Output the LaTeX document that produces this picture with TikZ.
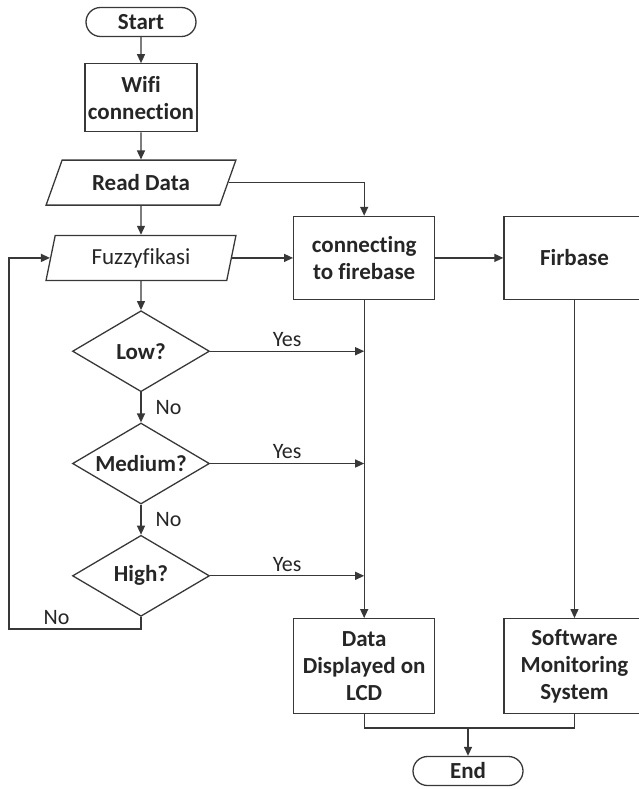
\documentclass[tikz,border=0pt]{standalone}
\usepackage{fontspec}
\setmainfont{Carlito}[Ligatures={NoCommon}]
\usepackage{tikz}
\usetikzlibrary{shapes.geometric,shapes.misc}
\usetikzlibrary{arrows.meta}
\usetikzlibrary{positioning}
\definecolor{ln}{rgb}{0.22,0.22,0.22}

\begin{document}
\begin{tikzpicture}[x=1pt,y=1pt,
  every node/.append style={draw=ln, line width=1.3pt, text=black!85,
    font=\fontsize{23}{27}\selectfont\bfseries, align=center},
  term/.style={rounded rectangle, minimum width=112pt, minimum height=29pt, inner sep=1pt},
  proc/.style={rectangle, minimum width=141pt, minimum height=83pt, inner sep=2pt},
  io/.style={trapezium, trapezium stretches=true, minimum width=190pt,
    minimum height=45pt, inner sep=1pt},
  dec/.style={diamond, aspect=1.7, minimum width=137pt, minimum height=81pt, inner sep=0pt},
  lbl/.style={draw=none, font=\fontsize{22}{27}\selectfont, inner sep=4pt},
  arr/.style={draw=ln, line width=1.3pt, -{Stealth[inset=0pt,length=9pt,width=8pt]}}
  ]
  \useasboundingbox (0,0) rectangle (639,-789);
  \node (start) [term] at (141,-22) {Start};
  \node (wifi) [proc, minimum width=112pt, minimum height=68pt, below=26pt of start]
        {Wifi\\connection};
  \node (read) [io, trapezium left angle=61, trapezium right angle=119, below=27pt of wifi]
        {Read Data};
  \node (fuzzy) [io, trapezium left angle=76, trapezium right angle=104, below=29pt of read,
        font=\fontsize{23}{27}\selectfont] {Fuzzyfikasi};
  \node (low) [dec, below=29pt of fuzzy] {Low?};
  \node (medium) [dec, below=30pt of low] {Medium?};
  \node (high) [dec, below=30pt of medium] {High?};
  \node (connect) [proc, right=61pt of fuzzy] {connecting\\to firebase};
  \node (firbase) [proc, right=68pt of connect] {Firbase};
  \node (display) [proc, minimum height=95pt, below=318pt of connect]
        {Data\\Displayed on\\LCD};
  \node (software) [proc, minimum height=95pt, right=68pt of display]
        {Software\\Monitoring\\System};
  \node (end) [term] at (468,-771) {End};
  \coordinate (back) at (9,-629);
  \coordinate (mrg) at (468,-728);

  \draw[arr] (start) -- (wifi);
  \draw[arr] (wifi) -- (read);
  \draw[arr] (read) -- (fuzzy);
  \draw[arr] (fuzzy) -- (low);
  \draw[arr] (low) -- node[lbl, right, xshift=10pt] {No} (medium);
  \draw[arr] (medium) -- node[lbl, right, xshift=10pt] {No} (high);
  \draw[arr] (read.east) -| (connect.north);
  \draw[arr] (fuzzy.east) -- (connect);
  \draw[arr] (connect) -- (firbase);
  \draw[arr] (connect) -- (display);
  \draw[arr] (firbase) -- (software);
  \draw[arr] (low.east) -- node[lbl, above] {Yes} (low.east -| connect.south);
  \draw[arr] (medium.east) -- node[lbl, above] {Yes} (medium.east -| connect.south);
  \draw[arr] (high.east) -- node[lbl, above] {Yes} (high.east -| connect.south);
  \draw[arr] (high.south) |- node[lbl, above, pos=0.82] {No} (back) |- (fuzzy.west);
  \draw[draw=ln, line width=1.3pt] (display.south) |- (mrg) -| (software.south);
  \draw[arr] (mrg) -- (end);
\end{tikzpicture}
\end{document}
